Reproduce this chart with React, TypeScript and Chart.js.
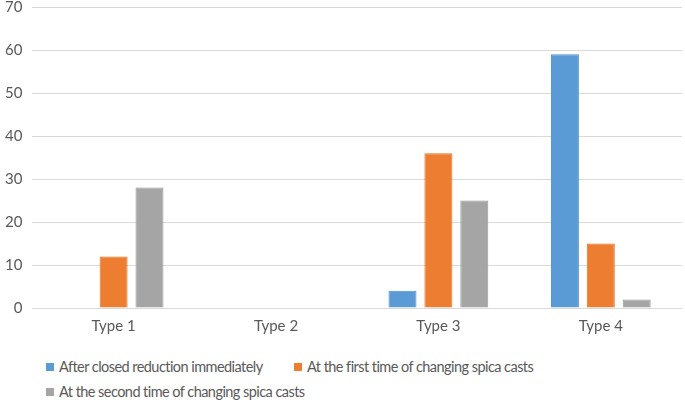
import React, { useEffect, useRef } from "react";
import { Chart, registerables } from "chart.js";

Chart.register(...registerables);

const categories = ["Type 1", "Type 2", "Type 3", "Type 4"];
const seriesNames = [
  "After closed reduction immediately",
  "At the first time of changing spica casts",
  "At the second time of changing spica casts",
];
const afterReduction = [0, 0, 4, 59];
const firstChange = [12, 0, 36, 15];
const secondChange = [28, 0, 25, 2];
const yTicks = [0, 10, 20, 30, 40, 50, 60, 70];

const colors = ["#5B9BD5", "#ED7D31", "#A5A5A5"];
const borders = ["#4F8FCB", "#E2711F", "#999999"];
const FONT = "Lato, 'Noto Sans', sans-serif";

export default function App() {
  const ref = useRef<HTMLCanvasElement | null>(null);
  useEffect(() => {
    if (!ref.current) return;
    const values = [afterReduction, firstChange, secondChange];
    const chart = new Chart(ref.current, {
      type: "bar",
      data: {
        labels: categories,
        datasets: seriesNames.map((name, i) => ({
          label: name,
          data: values[i],
          backgroundColor: colors[i],
          borderColor: borders[i],
          borderWidth: 1,
          categoryPercentage: 0.663,
          barPercentage: 0.78,
        })),
      },
      options: {
        animation: false,
        responsive: false,
        maintainAspectRatio: false,
        layout: { padding: { left: -5, right: 3, top: 7, bottom: 4 } },
        plugins: { legend: { display: false }, tooltip: { enabled: false } },
        scales: {
          x: {
            grid: { display: false, drawTicks: false },
            border: { display: false },
            ticks: { color: "#595959", font: { family: FONT, size: 15 }, padding: 9 },
          },
          y: {
            min: 0,
            max: 70,
            afterBuildTicks: (axis: any) => {
              axis.ticks = yTicks.map((v) => ({ value: v }));
            },
            afterFit: (axis: any) => {
              axis.paddingTop = 0;
              axis.paddingBottom = 0;
            },
            grid: { color: "#D9D9D9", lineWidth: 1, drawTicks: false },
            border: { display: false },
            ticks: { color: "#595959", font: { family: FONT, size: 15 }, padding: 10 },
          },
        },
      },
    });
    return () => chart.destroy();
  }, []);

  const legendItem = (i: number, left: number, top: number) => (
    <div
      key={i}
      style={{
        position: "absolute",
        left,
        top,
        display: "flex",
        alignItems: "center",
        fontFamily: FONT,
        fontSize: 14.5,
        letterSpacing: "-0.55px",
        color: "#595959",
        whiteSpace: "nowrap",
        lineHeight: "17px",
      }}
    >
      <span
        style={{
          display: "inline-block",
          width: 8,
          height: 8,
          background: colors[i],
          marginRight: 5,
        }}
      />
      {seriesNames[i]}
    </div>
  );

  return (
    <div
      style={{
        position: "fixed",
        left: 0,
        top: 0,
        width: 685,
        height: 403,
        background: "#fff",
      }}
    >
      <canvas ref={ref} width={685} height={348} style={{ display: "block" }} />
      {legendItem(0, 46, 358)}
      {legendItem(1, 294, 358)}
      {legendItem(2, 46, 383)}
    </div>
  );
}
